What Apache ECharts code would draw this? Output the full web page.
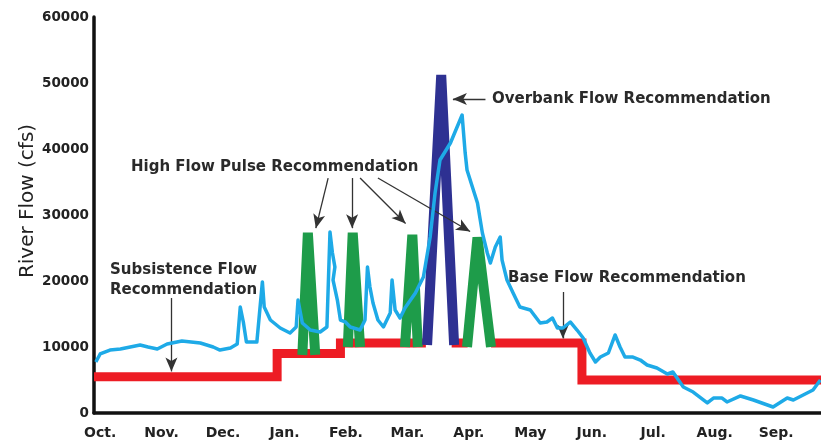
<!DOCTYPE html>
<html><head><meta charset="utf-8">
<script src="https://cdn.jsdelivr.net/npm/echarts@6/dist/echarts.min.js"></script>
<style>html,body{margin:0;padding:0;background:#fff}#c{width:821px;height:444px}</style>
</head><body><div id="c"></div>
<script>
// x values are in month units (0 = "Oct." label position, 1 = "Nov.", ...)
const monthLabels = ['Oct.','Nov.','Dec.','Jan.','Feb.','Mar.','Apr.','May','Jun.','Jul.','Aug.','Sep.'];
const monthTicks = [0,1,2,3,4,5,6,7,8,9,10,11];

// observed river flow hydrograph (cfs)
const riverFlow = [
 [-0.07,7730],[0.00,8940],[0.16,9540],[0.33,9700],[0.49,10000],[0.65,10300],[0.78,10000],[0.93,9700],
 [1.09,10450],[1.33,10910],[1.63,10600],[1.84,10000],[1.95,9540],[2.12,9850],[2.23,10450],[2.28,16060],
 [2.33,13790],[2.38,10760],[2.55,10760],[2.64,19850],[2.67,16060],[2.77,14090],[2.93,12880],[3.09,12120],
 [3.19,13030],[3.22,17120],[3.29,13640],[3.42,12570],[3.58,12270],[3.69,13030],[3.74,27420],[3.78,24240],
 [3.82,22120],[3.79,20150],[3.86,17120],[3.91,14090],[3.99,13790],[4.07,13030],[4.23,12570],[4.31,14090],
 [4.35,22120],[4.39,19090],[4.44,16670],[4.52,14090],[4.61,13030],[4.72,15150],[4.75,20150],[4.80,15600],
 [4.88,14390],[4.96,15910],[5.13,18180],[5.26,20600],[5.37,26660],[5.45,33330],[5.53,38330],[5.70,40910],
 [5.89,45150],[5.94,39390],[5.97,36810],[6.14,31820],[6.22,27270],[6.30,24240],[6.35,22730],[6.43,25150],
 [6.51,26660],[6.54,23180],[6.62,20150],[6.72,18180],[6.83,16060],[7.00,15600],[7.16,13640],[7.27,13790],
 [7.36,14390],[7.44,12880],[7.53,12880],[7.65,13790],[7.76,12570],[7.86,11360],[7.97,9090],[8.06,7730],
 [8.14,8480],[8.27,9090],[8.38,11820],[8.46,10000],[8.54,8480],[8.67,8480],[8.79,8030],[8.90,7270],
 [9.06,6820],[9.23,5910],[9.32,6210],[9.49,3940],[9.65,3180],[9.88,1520],[9.98,2270],[10.12,2270],
 [10.20,1670],[10.42,2580],[10.63,1970],[10.95,910],[11.18,2270],[11.28,1970],[11.44,2730],[11.60,3480],
 [11.72,5000]
];

// subsistence / base flow recommendation (step line, null = hidden under pulses)
const baseFlowRec = [
 [-0.1,5500],[2.88,5500],[2.88,9000],[3.91,9000],[3.91,10600],[5.30,10600],[5.30,null],
 [5.72,10600],[5.98,10600],[5.98,null],[6.36,10600],[7.84,10600],[7.84,5000],[11.73,5000]
];

// high flow pulse recommendations
const pulseJan = [[3.29,8800],[3.38,27300],[3.50,8800]];
const pulseFeb = [[4.03,10000],[4.11,27300],[4.23,10000]];
const pulseMar = [[4.96,10000],[5.08,27000],[5.17,10000]];
const pulseApr = [[5.97,10000],[6.14,26600],[6.36,10000]];

// overbank flow recommendation
const overbankPulse = [[5.32,10300],[5.55,51200],[5.76,10300]];

// annotation arrows: [xFrom, yFrom, xTo, yTo]
const arrows = [
 [1.16,17420,1.16,6300],
 [7.53,18330,7.53,11300],
 [6.27,47570,5.74,47570],
 [3.71,35600,3.51,28000],
 [4.10,35600,4.10,28000],
 [4.23,35600,4.97,28700],
 [4.52,35600,6.02,27500]
];

const FONT = '"DejaVu Sans", "Liberation Sans", Arial, sans-serif';
const chart = echarts.init(document.getElementById('c'), null, {renderer:'canvas'});

function pulseSeries(data, color){
  return {type:'line', data:data, symbol:'none', silent:true, z:3,
    lineStyle:{color:color, width:10, join:'bevel', cap:'butt'}};
}

chart.setOption({
  animation:false,
  backgroundColor:'#ffffff',
  grid:{left:94, right:0, top:17, bottom:31, containLabel:false},
  xAxis:{type:'value', min:-0.1, max:11.73,
    axisLine:{show:true, onZero:false, lineStyle:{color:'#111', width:3.5}},
    axisTick:{show:false}, splitLine:{show:false},
    axisLabel:{customValues:monthTicks, formatter:v=>monthLabels[Math.round(v)],
      fontFamily:FONT, fontWeight:'bold', fontSize:14, color:'#222', margin:13}},
  yAxis:{type:'value', min:0, max:60000, interval:10000,
    axisLine:{show:true, onZero:false, lineStyle:{color:'#111', width:3.5}},
    axisTick:{show:false}, splitLine:{show:false},
    axisLabel:{formatter:v=>String(v), fontFamily:FONT, fontWeight:'bold', fontSize:13.5, color:'#222', margin:5}},
  series:[
    {type:'line', data:baseFlowRec, symbol:'none', silent:true, z:2, connectNulls:false,
     lineStyle:{color:'#ed1c24', width:9, join:'miter', cap:'butt'}},
    pulseSeries(pulseJan,'#1e9c4a'),
    pulseSeries(pulseFeb,'#1e9c4a'),
    pulseSeries(pulseMar,'#1e9c4a'),
    pulseSeries(pulseApr,'#1e9c4a'),
    pulseSeries(overbankPulse,'#2e3192'),
    {type:'line', data:riverFlow, symbol:'none', silent:true, z:5,
     lineStyle:{color:'#1eaae7', width:3.5, join:'round'},
     markLine:{silent:true, symbol:['none','arrow'], symbolSize:[9,14], animation:false,
       lineStyle:{color:'#333', width:1.3, type:'solid'}, label:{show:false},
       emphasis:{disabled:true},
       data:arrows.map(a=>[{coord:[a[0],a[1]]},{coord:[a[2],a[3]]}])}}
  ],
  graphic:[
    {type:'text', x:28, y:201, rotation:Math.PI/2, silent:true,
     style:{text:'River Flow (cfs)', fontFamily:FONT, fontSize:20, fill:'#222', align:'center', verticalAlign:'middle'}},
    {type:'text', x:131, y:167, silent:true,
     style:{text:'High Flow Pulse Recommendation', fontFamily:FONT, fontWeight:'bold', fontSize:15, fill:'#2a2a2a', align:'left', verticalAlign:'middle'}},
    {type:'text', x:110, y:270, silent:true,
     style:{text:'Subsistence Flow', fontFamily:FONT, fontWeight:'bold', fontSize:15, fill:'#2a2a2a', align:'left', verticalAlign:'middle'}},
    {type:'text', x:110, y:290, silent:true,
     style:{text:'Recommendation', fontFamily:FONT, fontWeight:'bold', fontSize:15, fill:'#2a2a2a', align:'left', verticalAlign:'middle'}},
    {type:'text', x:492, y:99, silent:true,
     style:{text:'Overbank Flow Recommendation', fontFamily:FONT, fontWeight:'bold', fontSize:15, fill:'#2a2a2a', align:'left', verticalAlign:'middle'}},
    {type:'text', x:508, y:278, silent:true,
     style:{text:'Base Flow Recommendation', fontFamily:FONT, fontWeight:'bold', fontSize:15, fill:'#2a2a2a', align:'left', verticalAlign:'middle'}}
  ]
});
</script>
</body></html>
